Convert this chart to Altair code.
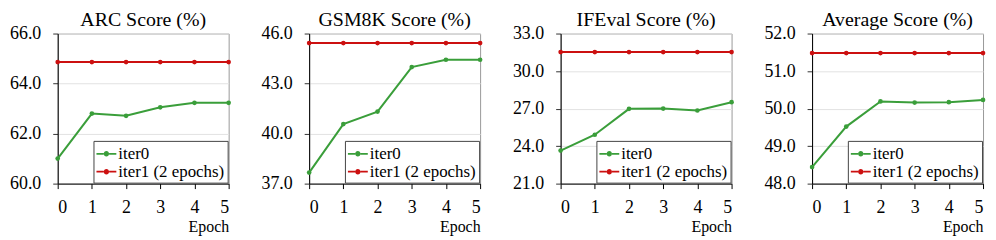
import altair as alt
import pandas as pd

epochs = [0, 1, 2, 3, 4, 5]
series_names = ["iter0", "iter1 (2 epochs)"]
series_colors = ["#3a9e3a", "#cc1010"]

titles = ["ARC Score (%)", "GSM8K Score (%)", "IFEval Score (%)", "Average Score (%)"]

arc_iter0 = [61.00, 62.80, 62.71, 63.05, 63.23, 63.23]
arc_iter1 = [64.86, 64.86, 64.86, 64.86, 64.86, 64.86]
gsm_iter0 = [37.66, 40.57, 41.32, 43.99, 44.43, 44.43]
gsm_iter1 = [45.43, 45.43, 45.43, 45.43, 45.43, 45.43]
ife_iter0 = [23.64, 24.91, 26.98, 27.00, 26.85, 27.51]
ife_iter1 = [31.52, 31.52, 31.52, 31.52, 31.52, 31.52]
avg_iter0 = [48.44, 49.52, 50.19, 50.16, 50.17, 50.23]
avg_iter1 = [51.48, 51.48, 51.48, 51.48, 51.48, 51.48]

arc_ticks = [60, 62, 64, 66]
gsm_ticks = [37, 40, 43, 46]
ife_ticks = [21, 24, 27, 30, 33]
avg_ticks = [48, 49, 50, 51, 52]

FONT = "Liberation Serif"
SYMBOL = ("M-1,-0.09H-0.27V0.09H-1Z M0.27,-0.09H1V0.09H0.27Z "
          "M-0.27,0A0.27,0.27 0 1 1 0.27,0A0.27,0.27 0 1 1 -0.27,0Z")


def panel(title, iter0, iter1, ticks):
    df = pd.DataFrame({
        "Epoch": epochs + epochs,
        "Score": iter0 + iter1,
        "Series": [series_names[0]] * len(epochs) + [series_names[1]] * len(epochs),
    })
    legend = alt.Legend(
        title=None, orient="bottom-right", offset=1,
        symbolType=SYMBOL, symbolSize=400, symbolStrokeWidth=0,
        labelFont=FONT, labelFontSize=17, labelColor="#000",
        strokeColor="#444", fillColor="white", padding=3,
        rowPadding=0, labelOffset=2, symbolOpacity=1,
    )
    base = alt.Chart(df).encode(
        x=alt.X("Epoch:Q",
                scale=alt.Scale(domain=[0, 5], nice=False),
                axis=alt.Axis(values=epochs, format="d", title="Epoch",
                              titleAnchor="end", titleAlign="right",
                              titleFont=FONT, titleFontSize=16, titleFontWeight="normal",
                              titleColor="#000", titlePadding=2,
                              labelFont=FONT, labelFontSize=18, labelColor="#000",
                              labelPadding=10, grid=False,
                              domainColor="#000", tickColor="#000", tickSize=5)),
        y=alt.Y("Score:Q",
                scale=alt.Scale(domain=[ticks[0], ticks[-1]], nice=False, zero=False),
                axis=alt.Axis(values=ticks, format=".1f", title=None,
                              labelFont=FONT, labelFontSize=18, labelColor="#000",
                              labelPadding=12, ticks=True, tickSize=5, tickColor="#333",
                              grid=True, gridColor="#e2e2e2", domainColor="#000",
                              minExtent=49, maxExtent=49)),
        color=alt.Color("Series:N",
                        scale=alt.Scale(domain=series_names, range=series_colors),
                        legend=legend),
    )
    pts = base.mark_point(filled=True, size=22, opacity=1)
    line = base.mark_line(strokeWidth=2)
    return alt.layer(pts, line).properties(
        width=172, height=151,
        title=alt.Title(title, frame="group", anchor="middle", font=FONT,
                        fontSize=20, fontWeight="normal", color="#000", offset=-5),
    )


chart = alt.hconcat(
    panel(titles[0], arc_iter0, arc_iter1, arc_ticks),
    panel(titles[1], gsm_iter0, gsm_iter1, gsm_ticks),
    panel(titles[2], ife_iter0, ife_iter1, ife_ticks),
    panel(titles[3], avg_iter0, avg_iter1, avg_ticks),
    spacing=26,
).resolve_scale(color="independent").configure(padding=0).configure_view(
    stroke="#999", strokeWidth=1
)

chart.save("out.html", embed_options={"renderer": "svg", "actions": False})
